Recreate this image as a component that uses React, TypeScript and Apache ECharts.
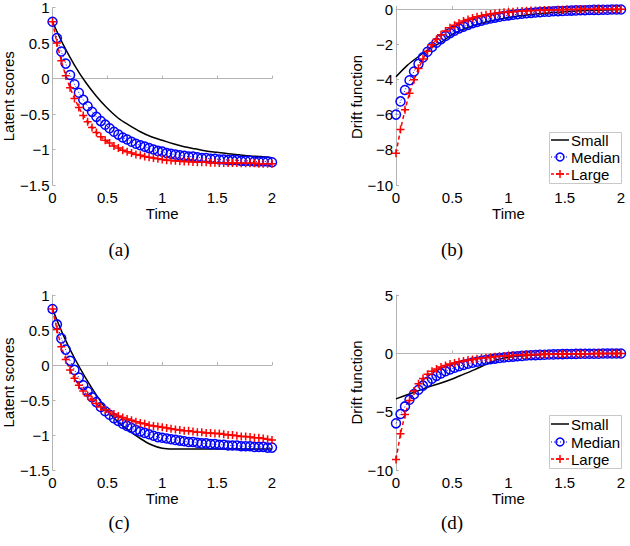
import React, { useEffect, useRef } from "react";
import * as echarts from "echarts";

// Time grid for marker series (step 0.04)
const T = [0, 0.04, 0.08, 0.12, 0.16, 0.2, 0.24, 0.28, 0.32, 0.36, 0.4, 0.44, 0.48, 0.52, 0.56, 0.6, 0.64, 0.68, 0.72, 0.76, 0.8, 0.84, 0.88, 0.92, 0.96, 1.0, 1.04, 1.08, 1.12, 1.16, 1.2, 1.24, 1.28, 1.32, 1.36, 1.4, 1.44, 1.48, 1.52, 1.56, 1.6, 1.64, 1.68, 1.72, 1.76, 1.8, 1.84, 1.88, 1.92, 1.96, 2.0];
// Time grid for the solid "Small" curves (step 0.1)
const T10 = [0, 0.1, 0.2, 0.3, 0.4, 0.5, 0.6, 0.7, 0.8, 0.9, 1.0, 1.1, 1.2, 1.3, 1.4, 1.5, 1.6, 1.7, 1.8, 1.9, 2.0];

// Panel (a)
const smallA = [0.8, 0.47, 0.19, -0.05, -0.25, -0.42, -0.56, -0.66, -0.75, -0.82, -0.87, -0.92, -0.96, -0.99, -1.02, -1.04, -1.06, -1.075, -1.09, -1.1, -1.115];
const medianA = [0.8, 0.57, 0.38, 0.21, 0.05, -0.08, -0.2, -0.3, -0.39, -0.47, -0.54, -0.6, -0.65, -0.7, -0.75, -0.79, -0.83, -0.86, -0.89, -0.92, -0.94, -0.96, -0.98, -1.0, -1.02, -1.03, -1.05, -1.06, -1.07, -1.08, -1.09, -1.1, -1.1, -1.11, -1.12, -1.12, -1.13, -1.13, -1.14, -1.14, -1.15, -1.15, -1.15, -1.16, -1.16, -1.16, -1.17, -1.17, -1.17, -1.17, -1.18];
const largeA = [0.8, 0.5, 0.25, 0.04, -0.13, -0.28, -0.41, -0.52, -0.61, -0.69, -0.76, -0.82, -0.87, -0.91, -0.95, -0.98, -1.01, -1.03, -1.05, -1.07, -1.08, -1.1, -1.11, -1.12, -1.13, -1.14, -1.15, -1.155, -1.16, -1.165, -1.17, -1.17, -1.175, -1.18, -1.18, -1.18, -1.185, -1.185, -1.19, -1.19, -1.19, -1.19, -1.19, -1.195, -1.195, -1.195, -1.195, -1.2, -1.2, -1.2, -1.2];

// Panel (b)
const smallB = [-3.85, -3.2, -2.7, -2.25, -1.9, -1.45, -1.15, -0.92, -0.74, -0.6, -0.48, -0.39, -0.31, -0.25, -0.2, -0.16, -0.12, -0.09, -0.07, -0.05, -0.04];
const medianB = [-6.0, -5.25, -4.6, -4.05, -3.55, -3.12, -2.75, -2.43, -2.16, -1.92, -1.71, -1.53, -1.37, -1.23, -1.11, -1.0, -0.9, -0.81, -0.73, -0.66, -0.6, -0.54, -0.49, -0.44, -0.4, -0.36, -0.33, -0.3, -0.27, -0.24, -0.22, -0.2, -0.18, -0.16, -0.15, -0.13, -0.12, -0.11, -0.1, -0.09, -0.08, -0.07, -0.07, -0.06, -0.05, -0.05, -0.04, -0.04, -0.03, -0.03, -0.03];
const largeB = [-8.2, -6.85, -5.72, -4.78, -4.02, -3.38, -2.84, -2.4, -2.03, -1.72, -1.46, -1.25, -1.07, -0.92, -0.79, -0.68, -0.59, -0.51, -0.44, -0.38, -0.33, -0.29, -0.25, -0.22, -0.19, -0.17, -0.15, -0.13, -0.11, -0.1, -0.09, -0.08, -0.07, -0.06, -0.05, -0.05, -0.04, -0.04, -0.03, -0.03, -0.03, -0.02, -0.02, -0.02, -0.02, -0.02, -0.02, -0.02, -0.02, -0.02, -0.02];

// Panel (c)
const smallC = [0.8, 0.42, 0.1, -0.18, -0.43, -0.65, -0.82, -0.94, -1.05, -1.14, -1.19, -1.2, -1.2, -1.2, -1.2, -1.2, -1.2, -1.2, -1.2, -1.2, -1.2];
const medianC = [0.8, 0.58, 0.38, 0.22, 0.06, -0.07, -0.18, -0.29, -0.38, -0.46, -0.53, -0.6, -0.66, -0.71, -0.76, -0.8, -0.84, -0.87, -0.9, -0.93, -0.95, -0.97, -0.99, -1.01, -1.03, -1.04, -1.05, -1.06, -1.07, -1.08, -1.09, -1.1, -1.1, -1.11, -1.12, -1.12, -1.13, -1.13, -1.14, -1.14, -1.15, -1.15, -1.15, -1.16, -1.16, -1.16, -1.17, -1.17, -1.17, -1.18, -1.18];
const largeC = [0.8, 0.51, 0.26, 0.08, -0.07, -0.19, -0.29, -0.37, -0.44, -0.5, -0.55, -0.6, -0.64, -0.67, -0.7, -0.73, -0.75, -0.77, -0.79, -0.81, -0.83, -0.84, -0.86, -0.87, -0.88, -0.89, -0.9, -0.91, -0.92, -0.93, -0.94, -0.94, -0.95, -0.96, -0.96, -0.97, -0.97, -0.98, -0.98, -0.99, -1.0, -1.0, -1.01, -1.02, -1.02, -1.03, -1.04, -1.04, -1.05, -1.06, -1.07];

// Panel (d)
const smallD = [-3.9, -3.55, -3.2, -2.85, -2.55, -2.2, -1.8, -1.4, -0.95, -0.55, -0.33, -0.23, -0.16, -0.11, -0.08, -0.05, -0.04, -0.03, -0.02, -0.01, 0];
const medianD = [-6.0, -5.2, -4.55, -3.98, -3.5, -3.12, -2.77, -2.45, -2.17, -1.93, -1.72, -1.54, -1.38, -1.24, -1.11, -0.99, -0.89, -0.8, -0.72, -0.64, -0.57, -0.51, -0.45, -0.4, -0.36, -0.32, -0.28, -0.25, -0.22, -0.19, -0.17, -0.15, -0.13, -0.12, -0.1, -0.09, -0.08, -0.07, -0.06, -0.06, -0.05, -0.04, -0.04, -0.03, -0.03, -0.03, -0.02, -0.02, -0.02, -0.02, -0.01];
const largeD = [-9.1, -6.9, -5.25, -4.05, -3.22, -2.6, -2.15, -1.8, -1.54, -1.34, -1.18, -1.04, -0.92, -0.82, -0.73, -0.65, -0.58, -0.52, -0.46, -0.41, -0.37, -0.33, -0.29, -0.26, -0.23, -0.21, -0.19, -0.17, -0.15, -0.13, -0.12, -0.1, -0.09, -0.08, -0.07, -0.07, -0.06, -0.05, -0.05, -0.04, -0.04, -0.03, -0.03, -0.03, -0.02, -0.02, -0.02, -0.02, -0.01, -0.01, -0.01];

const seriesNames = ["Small", "Median", "Large"];
const yLabels = ["Latent scores", "Drift function", "Latent scores", "Drift function"];
const xLabel = "Time";
const captions = ["(a)", "(b)", "(c)", "(d)"];
const yRanges = [
  { min: -1.5, max: 1, interval: 0.5 },
  { min: -10, max: 0, interval: 2 },
  { min: -1.5, max: 1, interval: 0.5 },
  { min: -10, max: 5, interval: 5 },
];

const PANELS = [
  { small: smallA, median: medianA, large: largeA },
  { small: smallB, median: medianB, large: largeB },
  { small: smallC, median: medianC, large: largeC },
  { small: smallD, median: medianD, large: largeD },
];

const GRIDS = [
  { left: 49, top: 7, width: 223, height: 178 },
  { left: 396, top: 9, width: 225, height: 176 },
  { left: 49, top: 295, width: 223, height: 175 },
  { left: 396, top: 295, width: 225, height: 175 },
];
const NAME_GAPS = [34, 31, 34, 31];
const CAPTION_POS = [
  [119, 249],
  [452, 249],
  [119, 522],
  [452, 522],
];
const LEGENDS = [
  { x: 549, y: 132, w: 72, h: 51, rows: [140, 157, 174] },
  { x: 549, y: 415, w: 72, h: 53, rows: [424, 442, 459] },
];

const FONT = "Liberation Sans";
const AXIS_COLOR = "#b4b4b4";
const BLUE = "#0000ff";
const RED = "#ff0000";
const PLUS = "path://M5,0L5,10M0,5L10,5";

const fmt = (v: number) => String(v).replace("-", "\u2212");

function legendGraphics(L: { x: number; y: number; w: number; h: number; rows: number[] }) {
  const lx1 = L.x + 2;
  const lx2 = L.x + 20;
  const cx = (lx1 + lx2) / 2;
  const tx = L.x + 22;
  const els: any[] = [
    {
      type: "rect",
      shape: { x: L.x + 0.5, y: L.y + 0.5, width: L.w, height: L.h },
      style: { fill: "#fff", stroke: "#c8c8c8", lineWidth: 1 },
      z: 100,
    },
  ];
  const [r0, r1, r2] = L.rows;
  els.push({ type: "line", shape: { x1: lx1, y1: r0, x2: lx2, y2: r0 }, style: { stroke: "#000", lineWidth: 1.5 }, z: 101 });
  els.push({ type: "line", shape: { x1: lx1, y1: r1, x2: lx2, y2: r1 }, style: { stroke: BLUE, lineWidth: 1, lineDash: [1, 2] }, z: 101 });
  els.push({ type: "circle", shape: { cx, cy: r1, r: 4 }, style: { fill: "none", stroke: BLUE, lineWidth: 1.5 }, z: 102 });
  els.push({ type: "line", shape: { x1: lx1, y1: r2, x2: lx2, y2: r2 }, style: { stroke: RED, lineWidth: 1.5, lineDash: [3, 2] }, z: 101 });
  els.push({ type: "line", shape: { x1: cx - 4, y1: r2, x2: cx + 4, y2: r2 }, style: { stroke: RED, lineWidth: 1.5 }, z: 102 });
  els.push({ type: "line", shape: { x1: cx, y1: r2 - 4, x2: cx, y2: r2 + 4 }, style: { stroke: RED, lineWidth: 1.5 }, z: 102 });
  seriesNames.forEach((n, i) => {
    els.push({
      type: "text",
      x: tx,
      y: L.rows[i],
      style: { text: n, fill: "#000", fontSize: 15, fontFamily: FONT, verticalAlign: "middle" },
      z: 102,
    });
  });
  return els;
}

export default function App() {
  const ref = useRef<HTMLDivElement>(null);
  useEffect(() => {
    if (!ref.current) return;
    const chart = echarts.init(ref.current, null, { renderer: "svg" });

    const grid = GRIDS.map((g) => ({ ...g, containLabel: false }));
    const xAxis = GRIDS.map((_, i) => ({
      type: "value",
      gridIndex: i,
      min: 0,
      max: 2,
      interval: 0.5,
      name: xLabel,
      nameLocation: "middle",
      nameGap: 16,
      nameTextStyle: { color: "#000", fontSize: 15, fontFamily: FONT, fontWeight: "normal" },
      axisLine: { show: true, lineStyle: { color: AXIS_COLOR, width: 1 } },
      axisTick: { show: true, inside: true, length: 3, lineStyle: { color: AXIS_COLOR } },
      axisLabel: { color: "#000", fontSize: 15, fontFamily: FONT, margin: 5, formatter: fmt },
      splitLine: { show: false },
    }));
    const yAxis = GRIDS.map((_, i) => ({
      type: "value",
      gridIndex: i,
      min: yRanges[i].min,
      max: yRanges[i].max,
      interval: yRanges[i].interval,
      name: yLabels[i],
      nameLocation: "middle",
      nameGap: NAME_GAPS[i],
      nameTextStyle: { color: "#000", fontSize: 15, fontFamily: FONT, fontWeight: "normal" },
      axisLine: { show: true, lineStyle: { color: AXIS_COLOR, width: 1 } },
      axisTick: { show: true, inside: true, length: 3, lineStyle: { color: AXIS_COLOR } },
      axisLabel: { color: "#000", fontSize: 15, fontFamily: FONT, margin: 3, formatter: fmt },
      splitLine: { show: false },
    }));

    const series: any[] = [];
    PANELS.forEach((p, i) => {
      series.push({
        name: "Small",
        type: "line",
        xAxisIndex: i,
        yAxisIndex: i,
        data: T10.map((t, k) => [t, p.small[k]]),
        smooth: 0.3,
        showSymbol: false,
        symbol: "none",
        lineStyle: { color: "#000", width: 1.5 },
        itemStyle: { color: "#000" },
        silent: true,
      });
      series.push({
        name: "Median",
        type: "line",
        xAxisIndex: i,
        yAxisIndex: i,
        data: T.map((t, k) => [t, p.median[k]]),
        symbol: "circle",
        symbolSize: 9,
        showAllSymbol: true,
        lineStyle: { color: BLUE, width: 1, type: [1, 2] },
        itemStyle: { color: "none", borderColor: BLUE, borderWidth: 1.5 },
        silent: true,
      });
      series.push({
        name: "Large",
        type: "line",
        xAxisIndex: i,
        yAxisIndex: i,
        data: T.map((t, k) => [t, p.large[k]]),
        symbol: PLUS,
        symbolSize: 8,
        showAllSymbol: true,
        lineStyle: { color: RED, width: 1.5, type: [4, 3] },
        itemStyle: { color: "none", borderColor: RED, borderWidth: 1.5 },
        silent: true,
      });
    });

    const graphic: any[] = [];
    captions.forEach((c, i) => {
      graphic.push({
        type: "text",
        x: CAPTION_POS[i][0],
        y: CAPTION_POS[i][1],
        style: {
          text: c,
          fill: "#000",
          fontSize: 19,
          fontFamily: "Liberation Serif",
          align: "center",
          verticalAlign: "middle",
        },
      });
    });
    LEGENDS.forEach((L) => graphic.push(...legendGraphics(L)));

    chart.setOption({
      animation: false,
      backgroundColor: "#fff",
      textStyle: { fontFamily: FONT },
      grid,
      xAxis,
      yAxis,
      series,
      graphic,
    });
    return () => chart.dispose();
  }, []);

  return (
    <div
      ref={ref}
      style={{ position: "absolute", left: 0, top: 0, width: 630, height: 546 }}
    />
  );
}
